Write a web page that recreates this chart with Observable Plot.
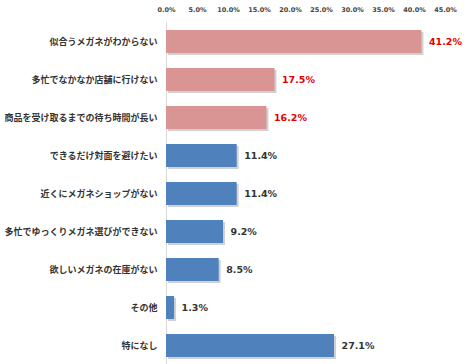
<!DOCTYPE html>
<html><head><meta charset="utf-8">
<script src="https://cdn.jsdelivr.net/npm/d3@7"></script>
<script src="https://cdn.jsdelivr.net/npm/@observablehq/plot@0.6"></script>
<style>
body{margin:0;background:#fff;}
svg{font-family:"DejaVu Sans","Noto Sans CJK JP",sans-serif;}
</style>
</head><body><div id="chart"></div>
<script>
const categories = ["似合うメガネがわからない","多忙でなかなか店舗に行けない","商品を受け取るまでの待ち時間が長い","できるだけ対面を避けたい","近くにメガネショップがない","多忙でゆっくりメガネ選びができない","欲しいメガネの在庫がない","その他","特になし"];
const values = [41.2, 17.5, 16.2, 11.4, 11.4, 9.2, 8.5, 1.3, 27.1];
const highlighted = [true, true, true, false, false, false, false, false, false];
const ticks = [0,5,10,15,20,25,30,35,40,45];

const data = categories.map((c,i)=>({cat:c, v:values[i], hi:highlighted[i]}));

const chart = Plot.plot({
  width: 467, height: 364,
  marginLeft: 166, marginRight: 22, marginTop: 22, marginBottom: 0,
  x: {domain:[0,45], ticks: ticks, tickFormat: d=>d.toFixed(1)+"%"},
  y: {domain: categories, paddingInner: 0.4, paddingOuter: 0.2, label: null},
  marks: [
    Plot.axisX({anchor:"top", ticks: ticks, tickSize:0, tickPadding:11, tickFormat: d=>d.toFixed(1)+"%", fontSize:6.5, fill:"#444", label:null, fontWeight:"bold"}),
    Plot.axisY({tickSize:0, tickPadding:9, fontSize:9, fill:"#333", fontFamily:"Noto Sans CJK JP", fontWeight:"bold", label:null}),
    Plot.ruleX([0], {stroke:"#d9d9d9", strokeWidth:1}),
    Plot.barX(data, {x:"v", y:"cat", fill:"#000", fillOpacity:0.18, dx:2, dy:2}),
    Plot.barX(data, {x:"v", y:"cat", fill: d=>d.hi ? "#D99594" : "#4F81BD"}),
    Plot.text(data, {x:"v", y:"cat", text: d=>d.v.toFixed(1)+"%", dx:7, textAnchor:"start", fontSize:9.5, fontWeight:"bold", fill: d=>d.hi ? "#E00000" : "#333"})
  ]
});
document.getElementById("chart").appendChild(chart);
</script>
</body></html>
